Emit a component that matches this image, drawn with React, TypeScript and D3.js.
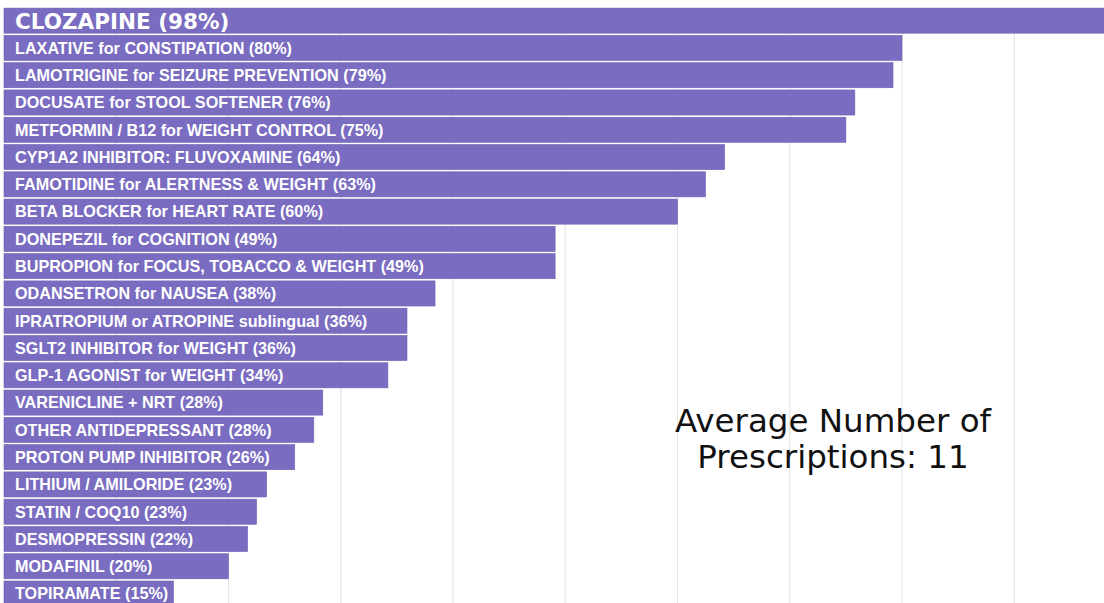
import React from "react";
import * as d3 from "d3";

const labels: string[] = [
  "CLOZAPINE (98%)",
  "LAXATIVE for CONSTIPATION (80%)",
  "LAMOTRIGINE for SEIZURE PREVENTION (79%)",
  "DOCUSATE for STOOL SOFTENER (76%)",
  "METFORMIN / B12 for WEIGHT CONTROL (75%)",
  "CYP1A2 INHIBITOR: FLUVOXAMINE (64%)",
  "FAMOTIDINE for ALERTNESS & WEIGHT (63%)",
  "BETA BLOCKER for HEART RATE (60%)",
  "DONEPEZIL for COGNITION (49%)",
  "BUPROPION for FOCUS, TOBACCO & WEIGHT (49%)",
  "ODANSETRON for NAUSEA (38%)",
  "IPRATROPIUM or ATROPINE sublingual (36%)",
  "SGLT2 INHIBITOR for WEIGHT (36%)",
  "GLP-1 AGONIST for WEIGHT (34%)",
  "VARENICLINE + NRT (28%)",
  "OTHER ANTIDEPRESSANT (28%)",
  "PROTON PUMP INHIBITOR (26%)",
  "LITHIUM / AMILORIDE (23%)",
  "STATIN / COQ10 (23%)",
  "DESMOPRESSIN (22%)",
  "MODAFINIL (20%)",
  "TOPIRAMATE (15%)",
];

const values: number[] = [
  98.5, 80.0, 79.2, 75.8, 75.0, 64.2, 62.5, 60.0, 49.1, 49.1, 38.4, 35.9,
  35.9, 34.2, 28.4, 27.6, 25.9, 23.4, 22.5, 21.7, 20.0, 15.1,
];

const gridTicks: number[] = [10, 20, 30, 40, 50, 60, 70, 80, 90, 100];

const noteLines: string[] = ["Average Number of", "Prescriptions: 11"];

const W = 1104;
const H = 603;

export default function App() {
  const x = d3.scaleLinear().domain([0, 100]).range([4, 1126.5]);
  const y = d3
    .scaleBand<string>()
    .domain(labels)
    .range([7, 607.2])
    .paddingInner(0.08)
    .paddingOuter(0.04);
  const bw = y.bandwidth();

  return (
    <div style={{ position: "fixed", left: 0, top: 0, width: W, height: H, background: "#fff" }}>
      <svg width={W} height={H} viewBox={`0 0 ${W} ${H}`} style={{ display: "block" }}>
        <rect x={0} y={0} width={W} height={H} fill="#ffffff" />
        <g>
          {gridTicks.map((t) => (
            <line
              key={t}
              x1={x(t)}
              x2={x(t)}
              y1={8}
              y2={H}
              stroke="#e6e6e6"
              strokeWidth={1.2}
            />
          ))}
        </g>
        <g>
          {labels.map((l, i) => (
            <rect
              key={l}
              x={x(0)}
              y={y(l)!}
              width={x(values[i]) - x(0)}
              height={bw}
              fill="#7A6CC0"
              stroke="#6e61b6"
              strokeWidth={0.6}
            />
          ))}
        </g>
        <g>
          {labels.map((l, i) =>
            i === 0 ? (
              <text
                key={l}
                x={15}
                y={y(l)! + bw / 2 + 8.5}
                fill="#ffffff"
                fontFamily="'DejaVu Sans', sans-serif"
                fontWeight={700}
                fontSize={21.5}
              >
                {l}
              </text>
            ) : (
              <text
                key={l}
                x={15}
                y={y(l)! + bw / 2 + 5.8}
                fill="#ffffff"
                fontFamily="'Liberation Sans', Arial, sans-serif"
                fontWeight={700}
                fontSize={16.2}
              >
                {l}
              </text>
            )
          )}
        </g>
        <g>
          {noteLines.map((s, i) => (
            <text
              key={s}
              x={833}
              y={432 + i * 36}
              textAnchor="middle"
              fill="#111"
              fontFamily="'DejaVu Sans', sans-serif"
              fontSize={32.5}
            >
              {s}
            </text>
          ))}
        </g>
      </svg>
    </div>
  );
}
